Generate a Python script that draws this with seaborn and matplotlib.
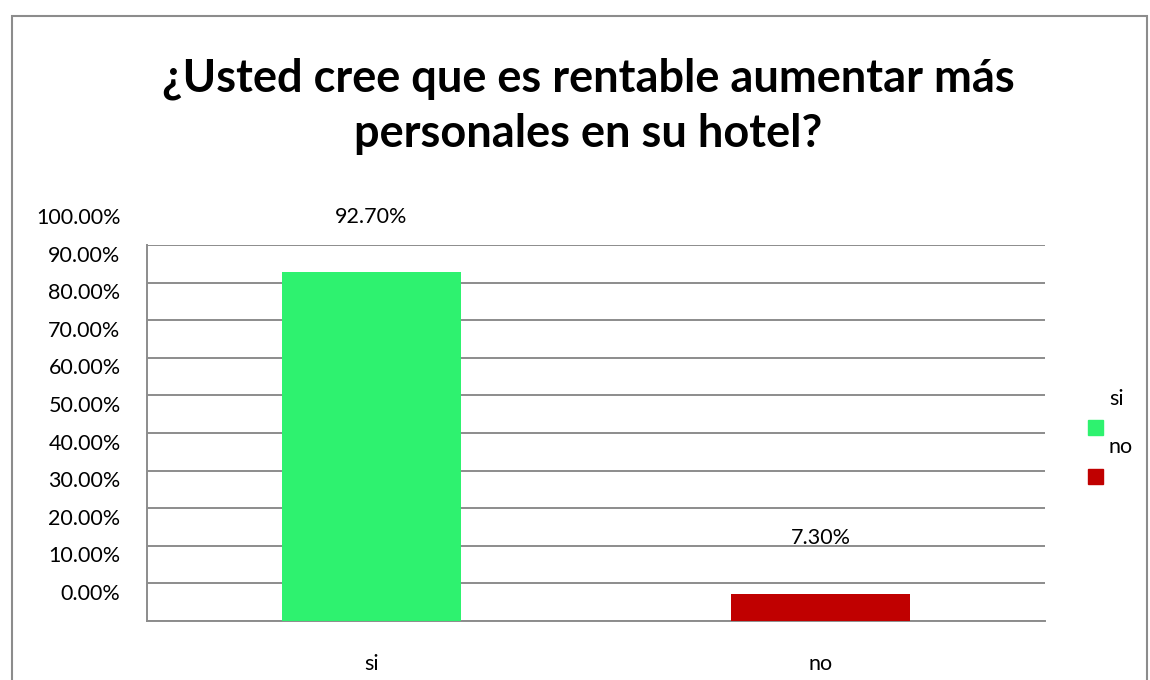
import matplotlib
matplotlib.use("Agg")
import matplotlib.pyplot as plt
import matplotlib.transforms as mtransforms
from matplotlib.patches import Rectangle
import seaborn as sns

categorias = ["si", "no"]
porcentajes = [92.7, 7.3]
etiquetas = ["92.70%", "7.30%"]
colores = ["#2EF26F", "#C00000"]
ticks_y = [0, 10, 20, 30, 40, 50, 60, 70, 80, 90, 100]
ticks_y_txt = ["%.2f%%" % t for t in ticks_y]
titulo = "¿Usted cree que es rentable aumentar más\npersonales en su hotel?"

sns.set_style("white")
plt.rcParams['font.family'] = ['Lato', 'DejaVu Sans']
plt.rcParams['text.color'] = 'black'
plt.rcParams['xtick.color'] = 'black'
plt.rcParams['ytick.color'] = 'black'

fig = plt.figure(figsize=(11.5, 6.8), dpi=100)
ax = fig.add_axes([147/1150, 1 - 621/680, (1045 - 147)/1150, (621 - 245)/680])

sns.barplot(x=categorias, y=porcentajes, hue=categorias, palette=colores,
            width=0.4, legend=False, saturation=1, linewidth=0, ax=ax, zorder=3)

ax.set_ylim(0, 100)
ax.set_xlim(-0.5, 1.5)
ax.set_yticks(ticks_y)
ax.set_yticklabels(ticks_y_txt, fontsize=15.5)
ax.yaxis.grid(True, color="#8c8c8c", linewidth=1.4, zorder=0)
ax.set_axisbelow(True)
for s in ["top", "right"]:
    ax.spines[s].set_visible(False)
for s in ["left", "bottom"]:
    ax.spines[s].set_color("#8c8c8c")
    ax.spines[s].set_linewidth(1.4)
ax.tick_params(axis="y", direction="out", length=6, width=1.4, color="#8c8c8c", pad=13)
ax.tick_params(axis="x", which="major", length=0, pad=24, labelsize=15.5)
ax.set_xticks([-0.5, 0.5, 1.5], minor=True)
ax.tick_params(axis="x", which="minor", direction="out", length=6, width=1.4, color="#8c8c8c")
ax.set_xlabel("")
ax.set_ylabel("")

# las etiquetas del eje y quedan desplazadas hacia arriba como en el original
off = mtransforms.ScaledTranslation(0, 29/100, fig.dpi_scale_trans)
for lab in ax.get_yticklabels():
    lab.set_transform(lab.get_transform() + off)

for i, cont in enumerate(ax.containers):
    ax.bar_label(cont, labels=[etiquetas[i]], padding=33, fontsize=15.5)

fig.text(588/1150, 1 - 106/680, titulo, ha="center", va="center",
         fontsize=32.5, fontweight="bold", linespacing=1.38)

# leyenda
for j, (c, col) in enumerate(zip(categorias, colores)):
    y_txt = 399 + j*48
    y_box = 420 + j*49
    fig.text(1109/1150, 1 - y_txt/680, c, ha="left", va="center", fontsize=15.5)
    fig.add_artist(Rectangle((1088/1150, 1 - (y_box + 15)/680), 15/1150, 15/680,
                             transform=fig.transFigure, color=col))

# marco del grafico
fig.add_artist(Rectangle((12/1150, -0.05), (1147 - 12)/1150, 1.05 - 16/680,
                         transform=fig.transFigure, fill=False,
                         edgecolor="#8c8c8c", linewidth=1.5))

fig.savefig("out.png", dpi=100)
